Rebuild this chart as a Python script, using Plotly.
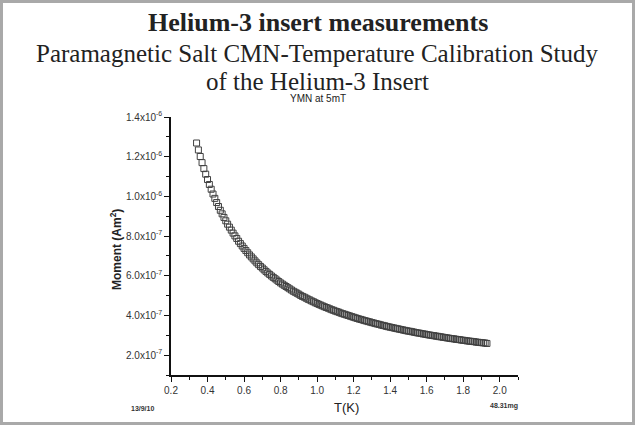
import plotly.graph_objects as go

T_K = [0.34, 0.35, 0.36, 0.37, 0.38, 0.39, 0.40, 0.41, 0.42, 0.43, 0.44, 0.45, 0.46, 0.47, 0.48, 0.49,
       0.50, 0.51, 0.52, 0.53, 0.54, 0.55, 0.56, 0.57, 0.58, 0.59, 0.60, 0.61, 0.62, 0.63, 0.64, 0.65,
       0.66, 0.67, 0.68, 0.69, 0.70, 0.71, 0.72, 0.73, 0.74, 0.75, 0.76, 0.77, 0.78, 0.79, 0.80, 0.81,
       0.82, 0.83, 0.84, 0.85, 0.86, 0.87, 0.88, 0.89, 0.90, 0.91, 0.92, 0.93, 0.94, 0.95, 0.96, 0.97,
       0.98, 0.99, 1.00, 1.01, 1.02, 1.03, 1.04, 1.05, 1.06, 1.07, 1.08, 1.09, 1.10, 1.11, 1.12, 1.13,
       1.14, 1.15, 1.16, 1.17, 1.18, 1.19, 1.20, 1.21, 1.22, 1.23, 1.24, 1.25, 1.26, 1.27, 1.28, 1.29,
       1.30, 1.31, 1.32, 1.33, 1.34, 1.35, 1.36, 1.37, 1.38, 1.39, 1.40, 1.41, 1.42, 1.43, 1.44, 1.45,
       1.46, 1.47, 1.48, 1.49, 1.50, 1.51, 1.52, 1.53, 1.54, 1.55, 1.56, 1.57, 1.58, 1.59, 1.60, 1.61,
       1.62, 1.63, 1.64, 1.65, 1.66, 1.67, 1.68, 1.69, 1.70, 1.71, 1.72, 1.73, 1.74, 1.75, 1.76, 1.77,
       1.78, 1.79, 1.80, 1.81, 1.82, 1.83, 1.84, 1.85, 1.86, 1.87, 1.88, 1.89, 1.90, 1.91, 1.92, 1.93]

moment_e7 = [12.69, 12.34, 12.01, 11.70, 11.40, 11.12, 10.85, 10.60, 10.36, 10.12, 9.90, 9.69, 9.49, 9.30, 9.12, 8.94,
             8.77, 8.60, 8.45, 8.30, 8.15, 8.01, 7.88, 7.74, 7.62, 7.50, 7.38, 7.27, 7.16, 7.05, 6.95, 6.85,
             6.75, 6.65, 6.56, 6.47, 6.39, 6.30, 6.22, 6.14, 6.07, 5.99, 5.92, 5.85, 5.78, 5.71, 5.64, 5.58,
             5.52, 5.46, 5.40, 5.34, 5.28, 5.22, 5.17, 5.12, 5.07, 5.01, 4.96, 4.92, 4.87, 4.82, 4.78, 4.73,
             4.69, 4.64, 4.60, 4.56, 4.52, 4.48, 4.44, 4.40, 4.37, 4.33, 4.29, 4.26, 4.22, 4.19, 4.16, 4.12,
             4.09, 4.06, 4.03, 4.00, 3.97, 3.94, 3.91, 3.88, 3.85, 3.82, 3.80, 3.77, 3.74, 3.72, 3.69, 3.67,
             3.64, 3.62, 3.59, 3.57, 3.55, 3.52, 3.50, 3.48, 3.45, 3.43, 3.41, 3.39, 3.37, 3.35, 3.33, 3.31,
             3.29, 3.27, 3.25, 3.23, 3.21, 3.20, 3.18, 3.16, 3.14, 3.12, 3.11, 3.09, 3.07, 3.06, 3.04, 3.02,
             3.01, 2.99, 2.98, 2.96, 2.95, 2.93, 2.92, 2.90, 2.89, 2.87, 2.86, 2.84, 2.83, 2.82, 2.80, 2.79,
             2.78, 2.76, 2.75, 2.74, 2.72, 2.71, 2.70, 2.69, 2.68, 2.66, 2.65, 2.64, 2.63, 2.62, 2.61, 2.59]

moment = [m * 1e-7 for m in moment_e7]

x_tick_vals = [0.2, 0.4, 0.6, 0.8, 1.0, 1.2, 1.4, 1.6, 1.8, 2.0]
x_tick_text = ["0.2", "0.4", "0.6", "0.8", "1.0", "1.2", "1.4", "1.6", "1.8", "2.0"]
y_tick_vals = [2e-7, 4e-7, 6e-7, 8e-7, 1.0e-6, 1.2e-6, 1.4e-6]
y_tick_text = ["2.0x10<sup>-7</sup>", "4.0x10<sup>-7</sup>", "6.0x10<sup>-7</sup>", "8.0x10<sup>-7</sup>",
               "1.0x10<sup>-6</sup>", "1.2x10<sup>-6</sup>", "1.4x10<sup>-6</sup>"]

title_main = "Helium-3 insert measurements"
subtitle_1 = "Paramagnetic Salt CMN-Temperature Calibration Study"
subtitle_2 = "of the Helium-3 Insert"
plot_title = "YMN at 5mT"
x_title = "T(K)"
y_title = "Moment (Am<sup>2</sup>)"
note_left = "13/9/10"
note_right = "48.31mg"

W, H = 635, 425
L, R, TOP, B = 171, 117, 117, 50
pw, ph = W - L - R, H - TOP - B


def px(xp):
    return (xp - L) / pw


def py(yp):
    return (H - B - yp) / ph


fig = go.Figure()
fig.add_trace(go.Scatter(
    x=T_K, y=moment, mode="markers",
    marker=dict(symbol="square-open", size=6, color="#404040", line=dict(width=1)),
    showlegend=False, hoverinfo="x+y",
))

axis_font = dict(family="Liberation Sans, Arial, sans-serif", size=10, color="#333333")

fig.update_xaxes(
    range=[0.2, 2.1], tickvals=x_tick_vals, ticktext=x_tick_text,
    showline=True, linecolor="#111111", linewidth=1.5, showgrid=False, zeroline=False,
    ticks="outside", ticklen=5, tickwidth=1.2, tickcolor="#111111", tickfont=axis_font,
    minor=dict(tickvals=[0.3, 0.5, 0.7, 0.9, 1.1, 1.3, 1.5, 1.7, 1.9, 2.1], ticks="outside",
               ticklen=3, tickwidth=1, tickcolor="#111111"),
)
fig.update_yaxes(
    range=[1e-7, 1.4e-6], tickvals=y_tick_vals, ticktext=y_tick_text,
    showline=True, linecolor="#111111", linewidth=1.5, showgrid=False, zeroline=False,
    ticks="outside", ticklen=5, tickwidth=1.2, tickcolor="#111111", tickfont=axis_font,
    minor=dict(tickvals=[1e-7, 3e-7, 5e-7, 7e-7, 9e-7, 1.1e-6, 1.3e-6], ticks="outside",
               ticklen=3, tickwidth=1, tickcolor="#111111"),
)

serif = "Liberation Serif, Times New Roman, serif"
sans = "Liberation Sans, Arial, sans-serif"
cx = px(W / 2)
annotations = [
    dict(text="<b>" + title_main + "</b>", x=cx, y=py(22), height=28,
         font=dict(family=serif, size=26, color="#222222")),
    dict(text=subtitle_1, x=cx, y=py(53), height=27, font=dict(family=serif, size=25, color="#222222")),
    dict(text=subtitle_2, x=cx, y=py(81), height=24, font=dict(family=serif, size=25, color="#222222")),
    dict(text=plot_title, x=cx, y=py(98), font=dict(family=sans, size=10, color="#222222")),
    dict(text="<b>" + y_title + "</b>", x=px(116), y=py(250), textangle=-90,
         font=dict(family=sans, size=12, color="#222222")),
    dict(text=x_title, x=px(346), y=py(407), font=dict(family=sans, size=13, color="#222222")),
    dict(text="<b>" + note_left + "</b>", x=px(142), y=py(408), font=dict(family=sans, size=7, color="#333333")),
    dict(text="<b>" + note_right + "</b>", x=px(504), y=py(406), font=dict(family=sans, size=7, color="#333333")),
]
for a in annotations:
    a.update(xref="paper", yref="paper", showarrow=False, xanchor="center", yanchor="middle")

fig.update_layout(
    width=W, height=H,
    margin=dict(l=L, r=R, t=TOP, b=B),
    paper_bgcolor="white", plot_bgcolor="white",
    annotations=annotations,
    shapes=[dict(type="rect", xref="paper", yref="paper",
                 x0=px(1.5), x1=px(633.5), y0=py(423.5), y1=py(1.5),
                 line=dict(color="#a9a9a9", width=3), fillcolor="rgba(0,0,0,0)", layer="below")],
)

fig.write_html("out.html", config={"displayModeBar": False},
               post_script="document.body.style.margin='0';document.body.style.overflow='hidden';")
